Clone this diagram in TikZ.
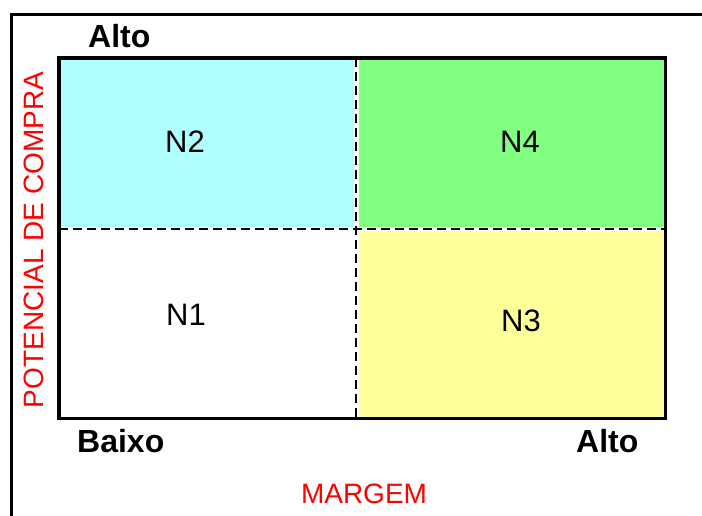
\documentclass[tikz,border=0pt]{standalone}
\usepackage{fontspec}
\setmainfont{Liberation Sans}
\definecolor{cyanq}{HTML}{B0FFFF}
\definecolor{greenq}{HTML}{80FF80}
\definecolor{yellowq}{HTML}{FFFF99}
\tikzset{
    axislabel/.style={font=\fontsize{32}{38}\selectfont\bfseries, inner sep=0pt, anchor=base west},
    quadlabel/.style={font=\fontsize{31}{37}\selectfont, inner sep=0pt, anchor=base west},
    redlabel/.style={font=\fontsize{28}{34}\selectfont, text=red, inner sep=0pt, anchor=base},
    divider/.style={line width=2.5pt, dash pattern=on 9pt off 5pt}
}
\begin{document}
\begin{tikzpicture}[x=1pt, y=-1pt]
    \useasboundingbox (0,0) rectangle (702,516);
    % outer frame, cut off at right and bottom
    \draw[line width=3pt] (11.5,516) -- (11.5,15) -- (702,15);
    % quadrants
    \fill[cyanq] (61,60) rectangle (354,227);
    \fill[greenq] (359,60) rectangle (663.5,227);
    \fill[yellowq] (359,231) rectangle (663.5,416.5);
    \draw[divider] (356,58) -- (356,418.5);
    \draw[divider] (59,229) -- (665.5,229);
    \draw[line width=3.5pt] (59,58) rectangle (665.5,418.5);
    % quadrant names
    \node[quadlabel] (n2) at (165,153) {N2};
    \node[quadlabel] (n4) at (500,153) {N4};
    \node[quadlabel] (n1) at (166,325) {N1};
    \node[quadlabel] (n3) at (501,331) {N3};
    % axes
    \node[axislabel] (ytop) at (88,48) {Alto};
    \node[axislabel] (xlow) at (77,452) {Baixo};
    \node[axislabel] (xtop) at (576,452) {Alto};
    \node[redlabel] (xname) at (364,503) {MARGEM};
    \node[redlabel, rotate=90] (yname) at (43,240) {POTENCIAL DE COMPRA};
\end{tikzpicture}
\end{document}
